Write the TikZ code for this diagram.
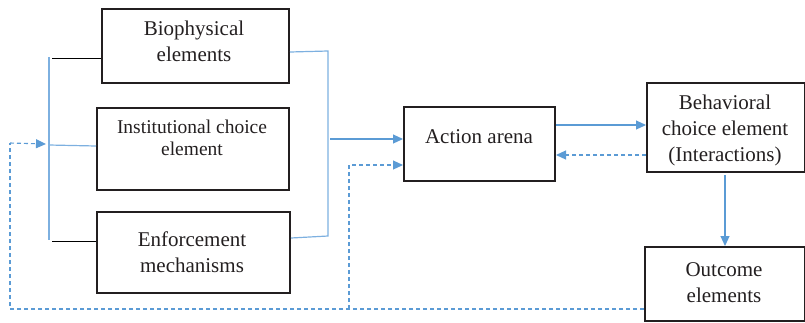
\documentclass[tikz,border=0pt]{standalone}
\usepackage{fontspec}
\setmainfont{Liberation Serif}
\usetikzlibrary{arrows.meta,calc}
\definecolor{bl}{HTML}{5B9BD5}
\definecolor{bll}{HTML}{7DB0E0}
\definecolor{tx}{HTML}{231F20}
\begin{document}
\begin{tikzpicture}[x=1pt,y=-1pt,
  box/.style={draw=tx,line width=2pt,inner sep=0pt,anchor=north west},
  lbl/.style={text=tx,align=center,font=\fontsize{21}{26}\selectfont,inner sep=0pt},
  lbls/.style={text=tx,align=center,font=\fontsize{19.5}{22}\selectfont,inner sep=0pt},
  conn/.style={draw=bll,line width=1.2pt},
  arr/.style={draw=bl,line width=1.1pt,-{Triangle[length=10pt,width=9pt]},color=bl},
  darr/.style={arr,dash pattern=on 4pt off 3pt},
  dline/.style={draw=bl,line width=1.1pt,dash pattern=on 4pt off 3pt},
  blk/.style={draw=black,line width=1pt}]
\useasboundingbox (0,0) rectangle (805,322);
% boxes
\node[box,minimum width=187pt,minimum height=74pt] (bio) at (101,8) {};
\node[lbl] (biot) at (194,41) {Biophysical\\elements};
\node[box,minimum width=192pt,minimum height=82pt] (ins) at (96,107) {};
\node[lbls] (inst) at (192,138) {Institutional choice\\element};
\node[box,minimum width=193pt,minimum height=81pt] (enf) at (96,211) {};
\node[lbl] (enft) at (192,252) {Enforcement\\mechanisms};
\node[box,minimum width=151pt,minimum height=74pt] (act) at (403,106) {};
\node[lbl] (actt) at (479,137) {Action arena};
\node[box,minimum width=158pt,minimum height=89pt] (beh) at (646,82) {};
\node[lbl] (beht) at (725,130) {Behavioral\\choice element\\(Interactions)};
\node[box,minimum width=160pt,minimum height=74pt] (out) at (644,246) {};
\node[lbl] (outt) at (724,283) {Outcome\\elements};
% coordinates
\coordinate (lt) at (49,57);
\coordinate (lb) at (49,240);
\coordinate (lm) at (49,145);
\coordinate (rt) at (328,51);
\coordinate (rb) at (328,236);
\coordinate (rm) at (330,139);
\coordinate (fa) at (10,143);
\coordinate (fb) at (10,309);
\coordinate (fc) at (349,309);
\coordinate (fd) at (349,165);
% left bracket
\draw[conn] (lt) -- (lb);
\draw[blk] (52,58) -- (bio.west |- 0,58);
\draw[blk] (52,241) -- (enf.west |- 0,241);
\draw[conn] (lm) -- (ins.west |- 0,146);
% right bracket
\draw[conn] (bio.east |- 0,52) -- (rt) -- (rb) -- (enf.east |- 0,238);
\draw[arr] (rm) -- (act.west |- rm);
% action <-> behavioral
\draw[arr] (act.east |- 0,125) -- (beh.west |- 0,125);
\draw[darr] (beh.west |- 0,155) -- (act.east |- 0,155);
\draw[arr] (725,175) -- (out.north -| 725,0);
% feedback
\draw[dline] (out.west |- fc) -- (fb) -- (fa);
\draw[darr] (fa) -- (46,144);
\draw[darr] (fc) -- (fd) -- (act.west |- fd);
\end{tikzpicture}
\end{document}
